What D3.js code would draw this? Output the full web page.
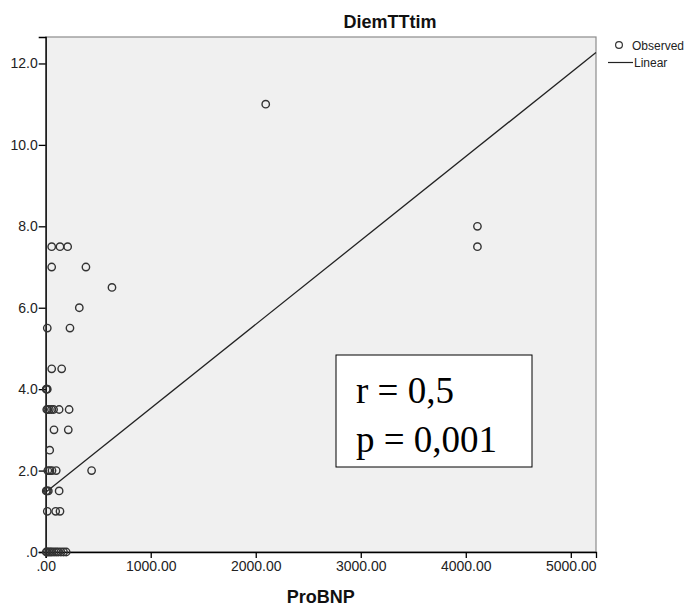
<!DOCTYPE html>
<html>
<head>
<meta charset="utf-8">
<script src="https://cdn.jsdelivr.net/npm/d3@7"></script>
<style>
  body { margin: 0; background: #fff; }
  svg { display: block; font-family: "Liberation Sans", Arial, sans-serif; }
</style>
</head>
<body>
<div id="chart"></div>
<script>
var proBNP = [2095,
  4111, 4111, 57, 136, 209,
  57, 383,
  631,
  320,
  15, 231,
  57, 152,
  5, 10, 15,
  10, 20, 35, 55, 75, 128, 223,
  79, 215,
  38,
  20, 40, 60, 100, 437,
  5, 15, 25, 128,
  15, 95, 136,
  5, 15, 30, 45, 60, 80, 100, 120, 145, 170, 195];
var diemTT = [11,
  8, 7.5, 7.5, 7.5, 7.5,
  7, 7,
  6.5,
  6,
  5.5, 5.5,
  4.5, 4.5,
  4, 4, 4,
  3.5, 3.5, 3.5, 3.5, 3.5, 3.5, 3.5,
  3, 3,
  2.5,
  2, 2, 2, 2, 2,
  1.5, 1.5, 1.5, 1.5,
  1, 1, 1,
  0, 0, 0, 0, 0, 0, 0, 0, 0, 0, 0];

var xTicks = [0, 1000, 2000, 3000, 4000, 5000];
var yTicks = [0, 2, 4, 6, 8, 10, 12];

// linear fit
var fitIntercept = 1.47;
var fitSlope = 0.002061;

var statLines = ["r = 0,5", "p = 0,001"];
var legendItems = ["Observed", "Linear"];

var width = 700, height = 609;
var plotLeft = 45.7, plotRight = 596, plotTop = 37, plotBottom = 552;
var xMax = 5240, yMax = 12.65;

var svg = d3.select("#chart").append("svg")
    .attr("width", width)
    .attr("height", height);

var x = d3.scaleLinear().domain([0, xMax]).range([plotLeft, plotRight]);
var y = d3.scaleLinear().domain([0, yMax]).range([plotBottom, plotTop]);

// plot background
svg.append("rect")
    .attr("x", plotLeft).attr("y", plotTop)
    .attr("width", plotRight - plotLeft).attr("height", plotBottom - plotTop)
    .attr("fill", "#f0f0f0")
    .attr("stroke", "#8c8c8c")
    .attr("stroke-width", 1.2);

function trimZero(s) {
    return s.replace(/^0\./, ".");
}

var xAxis = svg.append("g")
    .attr("transform", "translate(0," + plotBottom + ")")
    .call(d3.axisBottom(x).tickValues(xTicks).tickSize(6).tickPadding(3)
        .tickFormat(function(d) { return trimZero(d3.format(".2f")(d)); }));

var yAxis = svg.append("g")
    .attr("transform", "translate(" + plotLeft + ",0)")
    .call(d3.axisLeft(y).tickValues(yTicks).tickSize(7).tickPadding(1)
        .tickFormat(function(d) { return trimZero(d3.format(".1f")(d)); }));

[xAxis, yAxis].forEach(function(a) {
    a.select(".domain").attr("stroke", "#000").attr("stroke-width", 1.3);
    a.selectAll(".tick line").attr("stroke", "#000").attr("stroke-width", 1.3);
    a.selectAll(".tick text")
        .attr("fill", "#222")
        .style("font-size", "14px")
        .style("font-family", "'Liberation Sans', Arial, sans-serif");
});

// fit line
var lineX = [0, xMax];
svg.append("path")
    .datum(lineX)
    .attr("fill", "none")
    .attr("stroke", "#222")
    .attr("stroke-width", 1.3)
    .attr("d", d3.line()
        .x(function(d) { return x(d); })
        .y(function(d) { return y(fitIntercept + fitSlope * d); }));

// observed points
svg.append("g").selectAll("circle")
    .data(d3.range(proBNP.length))
    .enter()
    .append("circle")
    .attr("cx", function(i) { return x(proBNP[i]); })
    .attr("cy", function(i) { return y(diemTT[i]); })
    .attr("r", 3.7)
    .attr("fill", "none")
    .attr("stroke", "#333")
    .attr("stroke-width", 1.4);

// titles
svg.append("text")
    .attr("x", 390).attr("y", 28)
    .attr("text-anchor", "middle")
    .style("font-size", "18px")
    .style("font-weight", "bold")
    .attr("fill", "#111")
    .text("DiemTTtim");

svg.append("text")
    .attr("x", (plotLeft + plotRight) / 2).attr("y", 603)
    .attr("text-anchor", "middle")
    .style("font-size", "18px")
    .style("font-weight", "bold")
    .attr("fill", "#111")
    .text("ProBNP");

// legend
var legend = svg.append("g");
legend.append("circle")
    .attr("cx", 619).attr("cy", 45)
    .attr("r", 3.4)
    .attr("fill", "none").attr("stroke", "#333").attr("stroke-width", 1.2);
legend.append("line")
    .attr("x1", 608).attr("x2", 633)
    .attr("y1", 62.5).attr("y2", 62.5)
    .attr("stroke", "#222").attr("stroke-width", 1.2);
legend.selectAll("text")
    .data(legendItems)
    .enter()
    .append("text")
    .attr("x", function(d, i) { return i == 0 ? 632 : 634; })
    .attr("y", function(d, i) { return i == 0 ? 49.5 : 67; })
    .style("font-size", "12px")
    .attr("fill", "#222")
    .text(function(d) { return d; });

// stats box
svg.append("rect")
    .attr("x", 336).attr("y", 355)
    .attr("width", 196).attr("height", 112)
    .attr("fill", "#fff")
    .attr("stroke", "#000")
    .attr("stroke-width", 1);

svg.selectAll(".stat")
    .data(statLines)
    .enter()
    .append("text")
    .attr("class", "stat")
    .attr("x", 356)
    .attr("y", function(d, i) { return 403 + i * 49; })
    .style("font-family", "'Liberation Serif', 'Times New Roman', serif")
    .style("font-size", "37px")
    .attr("fill", "#000")
    .text(function(d) { return d; });
</script>
</body>
</html>
